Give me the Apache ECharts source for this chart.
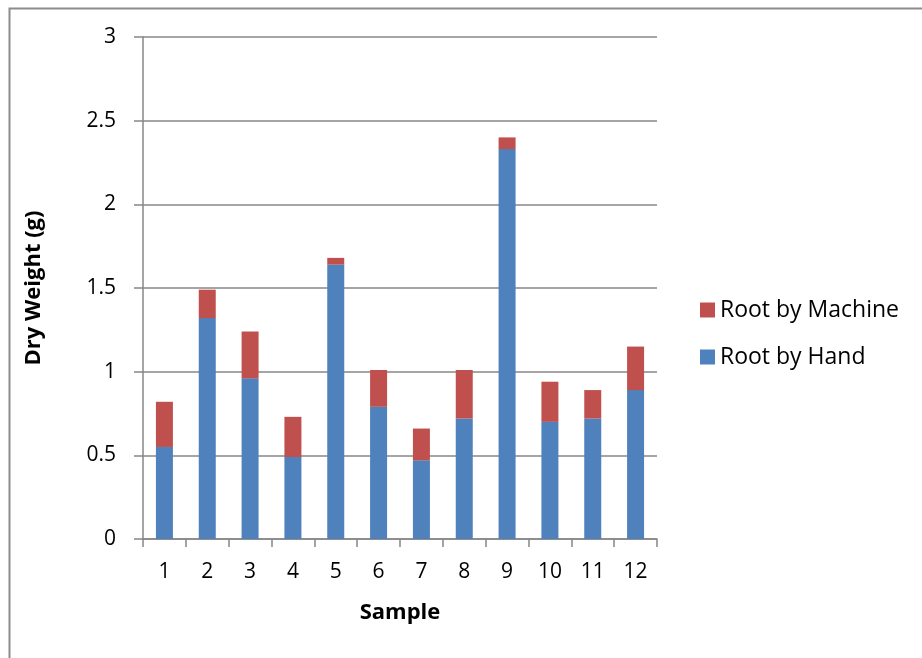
<!DOCTYPE html>
<html>
<head>
<meta charset="utf-8">
<script src="https://cdn.jsdelivr.net/npm/echarts@6/dist/echarts.min.js"></script>
<style>
html,body{margin:0;padding:0;background:#fff;}
#chart{width:922px;height:658px;}
</style>
</head>
<body>
<div id="chart"></div>
<script>
const categories = ['1','2','3','4','5','6','7','8','9','10','11','12'];
const rootByHand = [0.55,1.32,0.96,0.49,1.64,0.79,0.47,0.72,2.33,0.70,0.72,0.89];
const rootByMachine = [0.27,0.17,0.28,0.24,0.04,0.22,0.19,0.29,0.07,0.24,0.17,0.26];
const yTicks = [0,0.5,1,1.5,2,2.5,3];

const FONT = '"Open Sans", Lato, sans-serif';
const AXIS_COLOR = '#878787';

const chart = echarts.init(document.getElementById('chart'), null, {renderer:'canvas'});
chart.setOption({
  backgroundColor:'#fff',
  animation:false,
  graphic:[{
    type:'rect',
    shape:{x:9.5,y:8.5,width:940,height:700},
    style:{fill:'none',stroke:'#8c8c8c',lineWidth:2},
    silent:true
  }],
  grid:{left:143,right:265,top:37,bottom:119,containLabel:false},
  legend:{
    orient:'vertical',
    left:700,
    top:296,
    padding:0,
    data:['Root by Machine','Root by Hand'],
    itemWidth:15,itemHeight:15,itemGap:19,
    icon:'rect',
    textStyle:{fontFamily:FONT,fontSize:23,color:'#000',lineHeight:28}
  },
  xAxis:{
    type:'category',
    data:categories,
    name:'Sample',
    nameLocation:'middle',
    nameGap:63,
    nameTextStyle:{fontFamily:FONT,fontSize:22,fontWeight:'bold',color:'#000'},
    axisLine:{lineStyle:{color:AXIS_COLOR,width:1.5}},
    axisTick:{show:true,length:8,lineStyle:{color:AXIS_COLOR,width:1.5}},
    axisLabel:{fontFamily:FONT,fontSize:21,color:'#000',margin:23}
  },
  yAxis:{
    type:'value',
    min:0,max:3,interval:0.5,
    name:'Dry Weight (g)',
    nameLocation:'middle',
    nameGap:98,
    nameTextStyle:{fontFamily:FONT,fontSize:22,fontWeight:'bold',color:'#000'},
    axisLine:{show:true,lineStyle:{color:AXIS_COLOR,width:1.5}},
    axisTick:{show:true,length:9,lineStyle:{color:AXIS_COLOR,width:1.5}},
    axisLabel:{fontFamily:FONT,fontSize:21,color:'#000',margin:27,
      formatter:function(v){return yTicks.indexOf(v)>=0?String(v):'';}},
    splitLine:{show:true,lineStyle:{color:AXIS_COLOR,width:1.5}}
  },
  series:[
    {name:'Root by Hand',type:'bar',stack:'root',data:rootByHand,barWidth:17,
      itemStyle:{color:'#4F81BD'}},
    {name:'Root by Machine',type:'bar',stack:'root',data:rootByMachine,barWidth:17,
      itemStyle:{color:'#C0504D'}}
  ]
});
</script>
</body>
</html>
